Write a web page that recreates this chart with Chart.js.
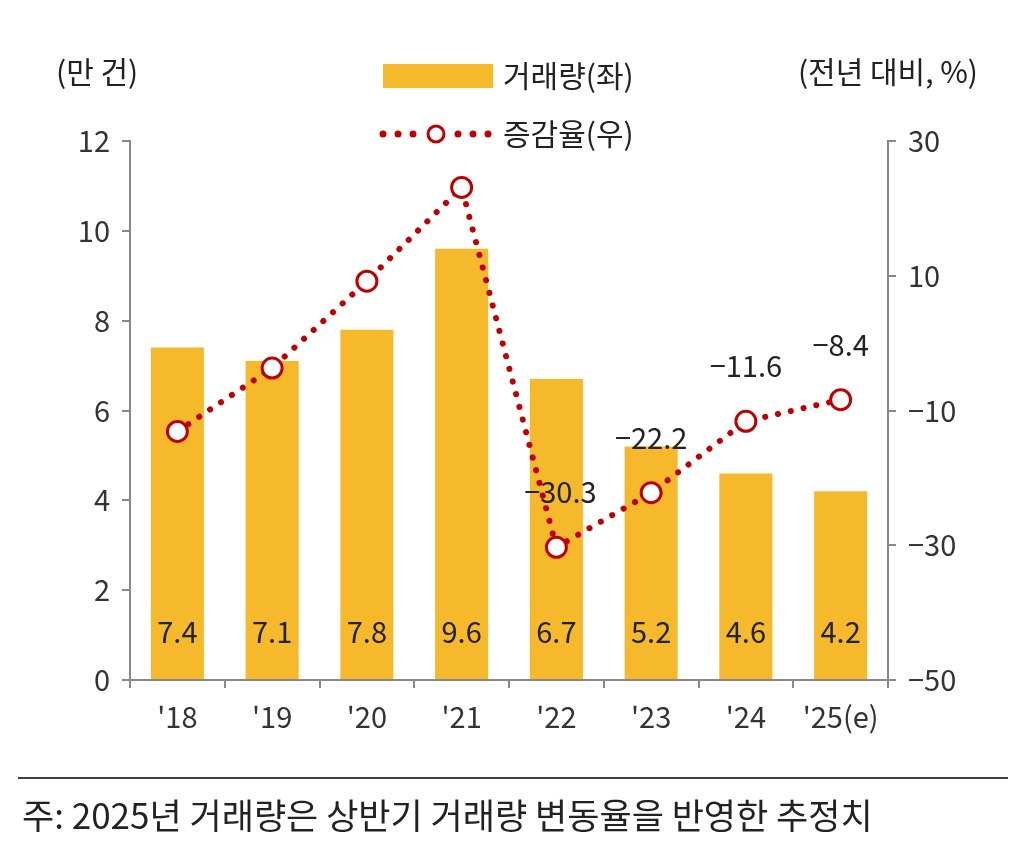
<!DOCTYPE html>
<html><head><meta charset="utf-8">
<script src="https://cdn.jsdelivr.net/npm/chart.js@4"></script>
<style>body{margin:0;background:#fff}#wrap{width:1026px;height:855px}</style>
</head><body><div id="wrap"><canvas id="c"></canvas></div>
<script>
const years = ["'18", "'19", "'20", "'21", "'22", "'23", "'24", "'25(e)"];
const volume = [7.4, 7.1, 7.8, 9.6, 6.7, 5.2, 4.6, 4.2];
const growth = [-13.1, -3.7, 9.2, 23.1, -30.3, -22.2, -11.6, -8.4];
const growthLabelShown = [false, false, false, false, true, true, true, true];

const FONT = '"Noto Sans CJK KR", "Noto Sans", sans-serif';
const RED = '#C00000';
const GOLD = '#F6B92B';

const extras = {
  id: 'extras',
  afterDatasetsDraw(chart) {
    const ctx = chart.ctx;
    ctx.save();
    ctx.fillStyle = '#222';
    ctx.font = '29px ' + FONT;
    ctx.textAlign = 'center';
    ctx.textBaseline = 'middle';
    // bar values near the bottom
    chart.getDatasetMeta(0).data.forEach((b, i) => {
      ctx.fillText(volume[i].toFixed(1), b.x, 632);
    });
    // line values above points
    chart.getDatasetMeta(1).data.forEach((p, i) => {
      if (growthLabelShown[i]) ctx.fillText(growth[i].toFixed(1).replace('-', '\u2212'), p.x + (i === 4 ? 4 : 0), p.y - 55);
    });
    // units
    ctx.font = '30px ' + FONT;
    ctx.textAlign = 'left';
    ctx.fillText('(만 건)', 56, 72);
    ctx.textAlign = 'right';
    ctx.fillText('(전년 대비, %)', 978, 72);
    // legend
    ctx.fillStyle = GOLD;
    ctx.fillRect(383, 64, 110, 24);
    ctx.fillStyle = '#222';
    ctx.textAlign = 'left';
    ctx.fillText('거래량(좌)', 503, 76);
    ctx.fillText('증감율(우)', 503, 134);
    ctx.fillStyle = RED;
    [383, 398, 413, 458, 473, 488].forEach(x => { ctx.beginPath(); ctx.arc(x, 134, 3.5, 0, Math.PI * 2); ctx.fill(); });
    ctx.beginPath(); ctx.arc(436, 134, 8, 0, Math.PI * 2);
    ctx.fillStyle = '#fff'; ctx.fill(); ctx.lineWidth = 3; ctx.strokeStyle = RED; ctx.stroke();
    // footnote
    ctx.strokeStyle = '#000'; ctx.lineWidth = 1.5;
    ctx.beginPath(); ctx.moveTo(18, 778); ctx.lineTo(1008, 778); ctx.stroke();
    ctx.fillStyle = '#222';
    ctx.font = '35px ' + FONT;
    ctx.textAlign = 'left';
    ctx.fillText('주: 2025년 거래량은 상반기 거래량 변동율을 반영한 추정치', 22, 816);
    ctx.restore();
  }
};

const axisCommon = {
  border: { color: '#888', width: 2 },
  ticks: { color: '#333', font: { size: 29, family: FONT } }
};

new Chart(document.getElementById('c'), {
  data: {
    labels: years,
    datasets: [
      { type: 'bar', data: volume, yAxisID: 'y', backgroundColor: GOLD,
        categoryPercentage: 1, barPercentage: 0.56, order: 2 },
      { type: 'line', data: growth, yAxisID: 'y2', borderColor: RED, borderWidth: 6,
        borderDash: [0.1, 13], borderCapStyle: 'round', pointRadius: 10,
        pointBackgroundColor: '#fff', pointBorderColor: RED, pointBorderWidth: 3, order: 1 }
    ]
  },
  options: {
    responsive: true, maintainAspectRatio: false, animation: false,
    layout: { padding: { top: 141, left: 0, right: 0, bottom: 0 } },
    plugins: { legend: { display: false }, tooltip: { enabled: false } },
    scales: {
      x: { ...axisCommon, offset: true,
        grid: { drawOnChartArea: false, offset: true, tickLength: 8, color: '#888', lineWidth: 2 },
        ticks: { ...axisCommon.ticks, padding: 12 },
        afterFit(a) { a.height = 175; } },
      y: { ...axisCommon, position: 'left', min: 0, max: 12,
        ticks: { ...axisCommon.ticks, stepSize: 2, padding: 12 },
        grid: { drawOnChartArea: false, tickLength: 8, color: '#888', lineWidth: 2 },
        afterFit(a) { a.width = 130; } },
      y2: { ...axisCommon, position: 'right', min: -50, max: 30,
        afterBuildTicks(a) { a.ticks = [-50, -30, -10, 10, 30].map(v => ({ value: v })); },
        ticks: { ...axisCommon.ticks, padding: 12, callback: v => String(v).replace('-', '\u2212') },
        grid: { drawOnChartArea: false, tickLength: 8, color: '#888', lineWidth: 2 },
        afterFit(a) { a.width = 138; } }
    }
  },
  plugins: [extras]
});
</script></body></html>
